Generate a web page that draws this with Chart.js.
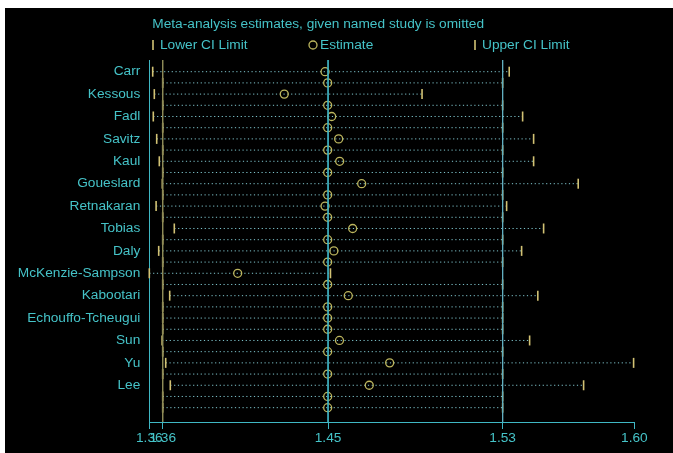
<!DOCTYPE html>
<html>
<head>
<meta charset="utf-8">
<script src="https://cdn.jsdelivr.net/npm/chart.js@4"></script>
<style>
	html, body { margin: 0; padding: 0; background: #fff; }
	#wrap { position: absolute; left: 5px; top: 8px; width: 668px; height: 445px; background: #000; }
</style>
</head>
<body>
<div id="wrap"><canvas id="influenceChart" width="668" height="445"></canvas></div>
<script>
	// study rows, top to bottom (only every other study is named on the axis)
	var studies = ['Carr', '', 'Kessous', '', 'Fadl', '', 'Savitz', '', 'Kaul', '', 'Goueslard', '',
		'Retnakaran', '', 'Tobias', '', 'Daly', '', 'McKenzie-Sampson', '', 'Kabootari', '',
		'Echouffo-Tcheugui', '', 'Sun', '', 'Yu', '', 'Lee', '', ''];

	// pooled estimate with the study left out
	var estimate = [1.4449, 1.4462, 1.4245, 1.4462, 1.4482, 1.4462, 1.4517, 1.4462, 1.4522, 1.4462,
		1.4632, 1.4462, 1.4449, 1.4462, 1.4587, 1.4462, 1.4493, 1.4462, 1.4012, 1.4462,
		1.4565, 1.4462, 1.4462, 1.4462, 1.4521, 1.4462, 1.4772, 1.4462, 1.4670, 1.4462, 1.4462];

	var lowerCI = [1.3587, 1.3637, 1.3595, 1.3637, 1.3590, 1.3637, 1.3607, 1.3637, 1.3620, 1.3637,
		1.3635, 1.3637, 1.3604, 1.3637, 1.3695, 1.3637, 1.3617, 1.3637, 1.3570, 1.3637,
		1.3672, 1.3637, 1.3637, 1.3637, 1.3634, 1.3637, 1.3652, 1.3637, 1.3675, 1.3637, 1.3637];

	var upperCI = [1.5370, 1.5337, 1.4934, 1.5337, 1.5437, 1.5337, 1.5492, 1.5337, 1.5492, 1.5337,
		1.5715, 1.5337, 1.5357, 1.5337, 1.5542, 1.5337, 1.5432, 1.5337, 1.4476, 1.5337,
		1.5513, 1.5337, 1.5337, 1.5337, 1.5472, 1.5337, 1.5992, 1.5337, 1.5742, 1.5337, 1.5337];

	// x axis: min CI, overall lower, overall estimate, overall upper, max CI
	var axisTicks = [1.3570, 1.3637, 1.4464, 1.5337, 1.5996];

	var titleText = 'Meta-analysis estimates, given named study is omitted';

	// row axis range (a little room above the first and below the last row)
	var yMin = -1.045;
	var yMax = 31.28;

	var TEXT = '#45c3c8';
	var AXIS = '#3fb7c4';
	var TICK = '#d2c274';
	var RING = '#bdb65e';
	var DOTS = '#7ec4cc';
	var FONT = '"Liberation Sans", Arial, sans-serif';
	var FSIZE = 13.7;

	// colours of the overall lower / estimate / upper lines
	var refColors = ['#8e8c58', '#3fb0c0', '#63afc0'];

	// dotted CI segment per row
	function buildCiLines() {
		var sets = [];
		for (let i = 0; i < studies.length; i++) {
			sets.push({
				type: 'line',
				data: [{ x: lowerCI[i], y: i }, { x: upperCI[i], y: i }],
				borderColor: DOTS,
				borderWidth: 1,
				borderDash: [1.2, 2.6],
				pointRadius: 0,
				order: 3,
				clip: false
			});
		} // end for
		return sets;
	} // buildCiLines

	// vertical lines at the overall CI and estimate
	function buildRefLines() {
		var sets = [];
		for (let i = 1; i <= 3; i++) {
			sets.push({
				type: 'line',
				data: [{ x: axisTicks[i], y: yMin }, { x: axisTicks[i], y: yMax }],
				borderColor: refColors[i - 1],
				borderWidth: 1,
				pointRadius: 0,
				order: 0,
				clip: false
			});
		} // end for
		return sets;
	} // buildRefLines

	function toPoints(values) {
		return values.map(function(v, i) { return { x: v, y: i }; });
	} // toPoints

	// title + legend row drawn above the plot
	var headerPlugin = {
		id: 'header',
		afterDraw: function(chart) {
			var c = chart.ctx;
			var a = chart.chartArea;
			var ly = 37;
			c.save();
			c.font = FSIZE + 'px ' + FONT;
			c.fillStyle = TEXT;
			c.textAlign = 'left';
			c.textBaseline = 'middle';
			c.fillText(titleText, a.left + 3, 16);

			c.strokeStyle = TICK;
			c.lineWidth = 1.6;
			c.beginPath();
			c.moveTo(a.left + 3.7, ly - 5); c.lineTo(a.left + 3.7, ly + 5);
			c.moveTo(a.left + 325.7, ly - 5); c.lineTo(a.left + 325.7, ly + 5);
			c.stroke();

			c.strokeStyle = RING;
			c.lineWidth = 1.3;
			c.beginPath();
			c.arc(a.left + 163.7, ly, 4, 0, Math.PI * 2);
			c.stroke();

			c.fillText('Lower CI Limit', a.left + 10.7, ly);
			c.fillText('Estimate', a.left + 170.7, ly);
			c.fillText('Upper CI Limit', a.left + 332.7, ly);
			c.restore();
		} // afterDraw
	}; // headerPlugin

	var datasets = buildCiLines().concat(buildRefLines());
	datasets.push({
		label: 'Lower CI Limit',
		data: toPoints(lowerCI),
		pointStyle: 'line',
		rotation: 90,
		pointRadius: 5,
		borderColor: TICK,
		borderWidth: 1.6,
		order: 2,
		clip: false
	});
	datasets.push({
		label: 'Upper CI Limit',
		data: toPoints(upperCI),
		pointStyle: 'line',
		rotation: 90,
		pointRadius: 5,
		borderColor: TICK,
		borderWidth: 1.6,
		order: 2,
		clip: false
	});
	datasets.push({
		label: 'Estimate',
		data: toPoints(estimate),
		pointStyle: 'circle',
		pointRadius: 4,
		borderColor: RING,
		backgroundColor: 'rgba(0,0,0,0)',
		borderWidth: 1.3,
		order: 1,
		clip: false
	});

	var chart = new Chart(document.getElementById('influenceChart'), {
		type: 'scatter',
		data: { datasets: datasets },
		plugins: [headerPlugin],
		options: {
			responsive: false,
			animation: false,
			events: [],
			layout: { padding: { top: 52, right: 38.6, left: 0, bottom: 0 } },
			plugins: {
				legend: { display: false },
				tooltip: { enabled: false },
				title: { display: false }
			},
			scales: {
				x: {
					type: 'linear',
					min: axisTicks[0],
					max: axisTicks[4],
					afterBuildTicks: function(scale) {
						scale.ticks = axisTicks.map(function(v) { return { value: v }; });
					},
					afterFit: function(scale) { scale.height = 31; },
					ticks: {
						autoSkip: false,
						maxRotation: 0,
						padding: 1,
						color: TEXT,
						font: { family: FONT, size: FSIZE },
						callback: function(v) { return Number(v).toFixed(2); }
					},
					grid: {
						drawOnChartArea: false,
						color: AXIS,
						tickLength: 7,
						lineWidth: 1
					},
					border: { color: AXIS, width: 1 }
				},
				y: {
					type: 'linear',
					reverse: true,
					min: yMin,
					max: yMax,
					afterBuildTicks: function(scale) {
						scale.ticks = studies.map(function(n, i) { return { value: i }; });
					},
					afterFit: function(scale) { scale.width = 144.3; },
					ticks: {
						autoSkip: false,
						padding: 9,
						color: TEXT,
						font: { family: FONT, size: FSIZE },
						callback: function(v) { return studies[v]; }
					},
					grid: { display: false, drawTicks: false },
					border: { color: AXIS, width: 1 }
				}
			}
		} // end options
	}); // end chart
</script>
</body>
</html>
